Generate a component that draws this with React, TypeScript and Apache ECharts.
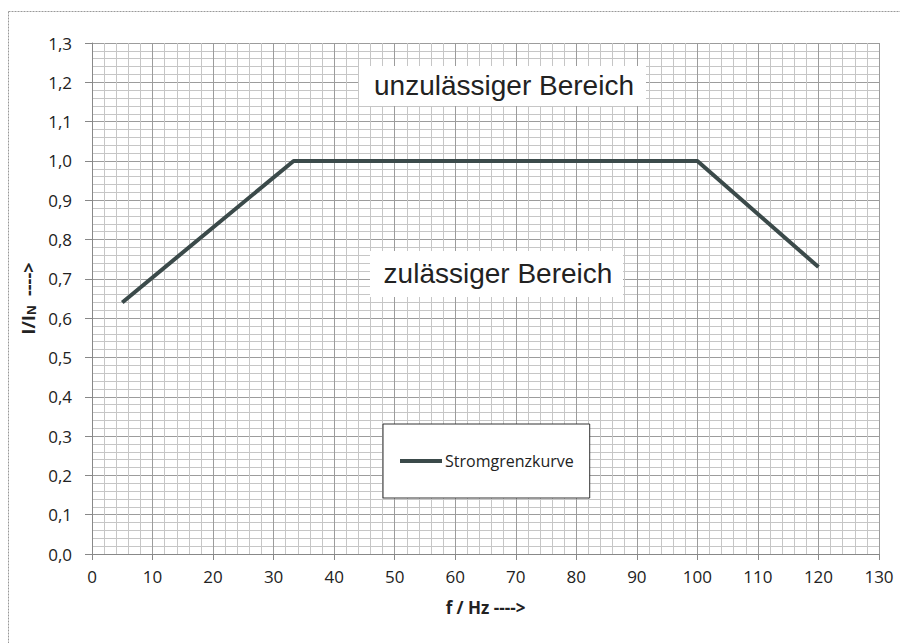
import React, { useEffect, useRef } from "react";
import * as echarts from "echarts";

const freqHz = [5, 33.3, 100, 120];
const currentRatio = [0.64, 1.0, 1.0, 0.73];
const seriesName = "Stromgrenzkurve";
const upperLabel = "unzulässiger Bereich";
const lowerLabel = "zulässiger Bereich";

export default function App() {
  const ref = useRef<HTMLDivElement>(null);
  useEffect(() => {
    if (!ref.current) return;
    const chart = echarts.init(ref.current, null, { renderer: "svg" });
    const data = freqHz.map((x, i) => [x, currentRatio[i]]);
    chart.setOption({
      animation: false,
      backgroundColor: "#ffffff",
      grid: { left: 92, right: 21, top: 43, bottom: 89, containLabel: false },
      legend: {
        left: 383,
        top: 424,
        orient: "vertical",
        data: [seriesName],
        icon: "rect",
        itemWidth: 42,
        itemHeight: 4,
        itemGap: 0,
        padding: [29, 16, 29, 17],
        backgroundColor: "#ffffff",
        borderColor: "#333333",
        borderWidth: 1,
        textStyle: { fontFamily: "Open Sans", fontSize: 16, color: "#222", padding: [0, 0, 0, -2] },
      },
      xAxis: {
        type: "value",
        min: 0,
        max: 130,
        interval: 10,
        name: "f / Hz ---->",
        nameLocation: "middle",
        nameGap: 45,
        nameTextStyle: { fontFamily: "Open Sans", fontSize: 17, fontWeight: "bold", color: "#222" },
        axisLine: { show: true, lineStyle: { color: "#888", width: 1 } },
        axisTick: { show: true, length: 6, lineStyle: { color: "#888" } },
        axisLabel: { margin: 14, fontFamily: "Open Sans", fontSize: 17, color: "#222" },
        splitLine: { show: true, lineStyle: { color: "#9c9c9c", width: 1 } },
        minorTick: { show: false, splitNumber: 5 },
        minorSplitLine: { show: true, lineStyle: { color: "#c6c6c6", width: 1 } },
      },
      yAxis: {
        type: "value",
        min: 0,
        max: 1.3,
        interval: 0.1,
        name: "{a|I/I}{b|N}{a|  ---->}",
        nameLocation: "middle",
        nameGap: 45,
        nameTextStyle: {
          rich: {
            a: { fontFamily: "Open Sans", fontSize: 18, fontWeight: "bold", color: "#222" },
            b: { fontFamily: "Open Sans", fontSize: 12, fontWeight: "bold", color: "#222", verticalAlign: "bottom", padding: [7, 0, 0, 0] },
          },
        },
        axisLine: { show: true, lineStyle: { color: "#888", width: 1 } },
        axisTick: { show: true, length: 7, lineStyle: { color: "#888" } },
        axisLabel: {
          margin: 20,
          fontFamily: "Open Sans",
          fontSize: 17,
          color: "#222",
          formatter: (v: number) => v.toFixed(1).replace(".", ","),
        },
        splitLine: { show: true, lineStyle: { color: "#9c9c9c", width: 1 } },
        minorTick: { show: false, splitNumber: 5 },
        minorSplitLine: { show: true, lineStyle: { color: "#c6c6c6", width: 1 } },
      },
      graphic: [
        { type: "line", shape: { x1: 8.5, y1: 11.5, x2: 900, y2: 11.5 }, style: { stroke: "#999", lineWidth: 1, lineDash: [2, 1] }, z: 100 },
        { type: "line", shape: { x1: 8.5, y1: 11.5, x2: 8.5, y2: 643 }, style: { stroke: "#999", lineWidth: 1, lineDash: [2, 1] }, z: 100 },
        { type: "rect", shape: { x: 359, y: 66, width: 287, height: 40 }, style: { fill: "#ffffff" }, z: 100 },
        {
          type: "text",
          x: 504,
          y: 85,
          style: { text: upperLabel, fontFamily: "Liberation Sans, Arial", fontSize: 28, fill: "#222", align: "center", verticalAlign: "middle" },
          z: 101,
        },
        { type: "rect", shape: { x: 370, y: 251, width: 253, height: 46 }, style: { fill: "#ffffff" }, z: 100 },
        {
          type: "text",
          x: 498,
          y: 273,
          style: { text: lowerLabel, fontFamily: "Liberation Sans, Arial", fontSize: 28, fill: "#222", align: "center", verticalAlign: "middle" },
          z: 101,
        },
      ],
      series: [
        {
          name: seriesName,
          type: "line",
          data,
          showSymbol: false,
          symbol: "none",
          lineStyle: { color: "#3b4a4a", width: 4 },
          itemStyle: { color: "#3b4a4a" },
          z: 5,
        },
      ],
    });
    return () => chart.dispose();
  }, []);
  return <div ref={ref} style={{ width: 900, height: 643, position: "absolute", left: 0, top: 0 }} />;
}
